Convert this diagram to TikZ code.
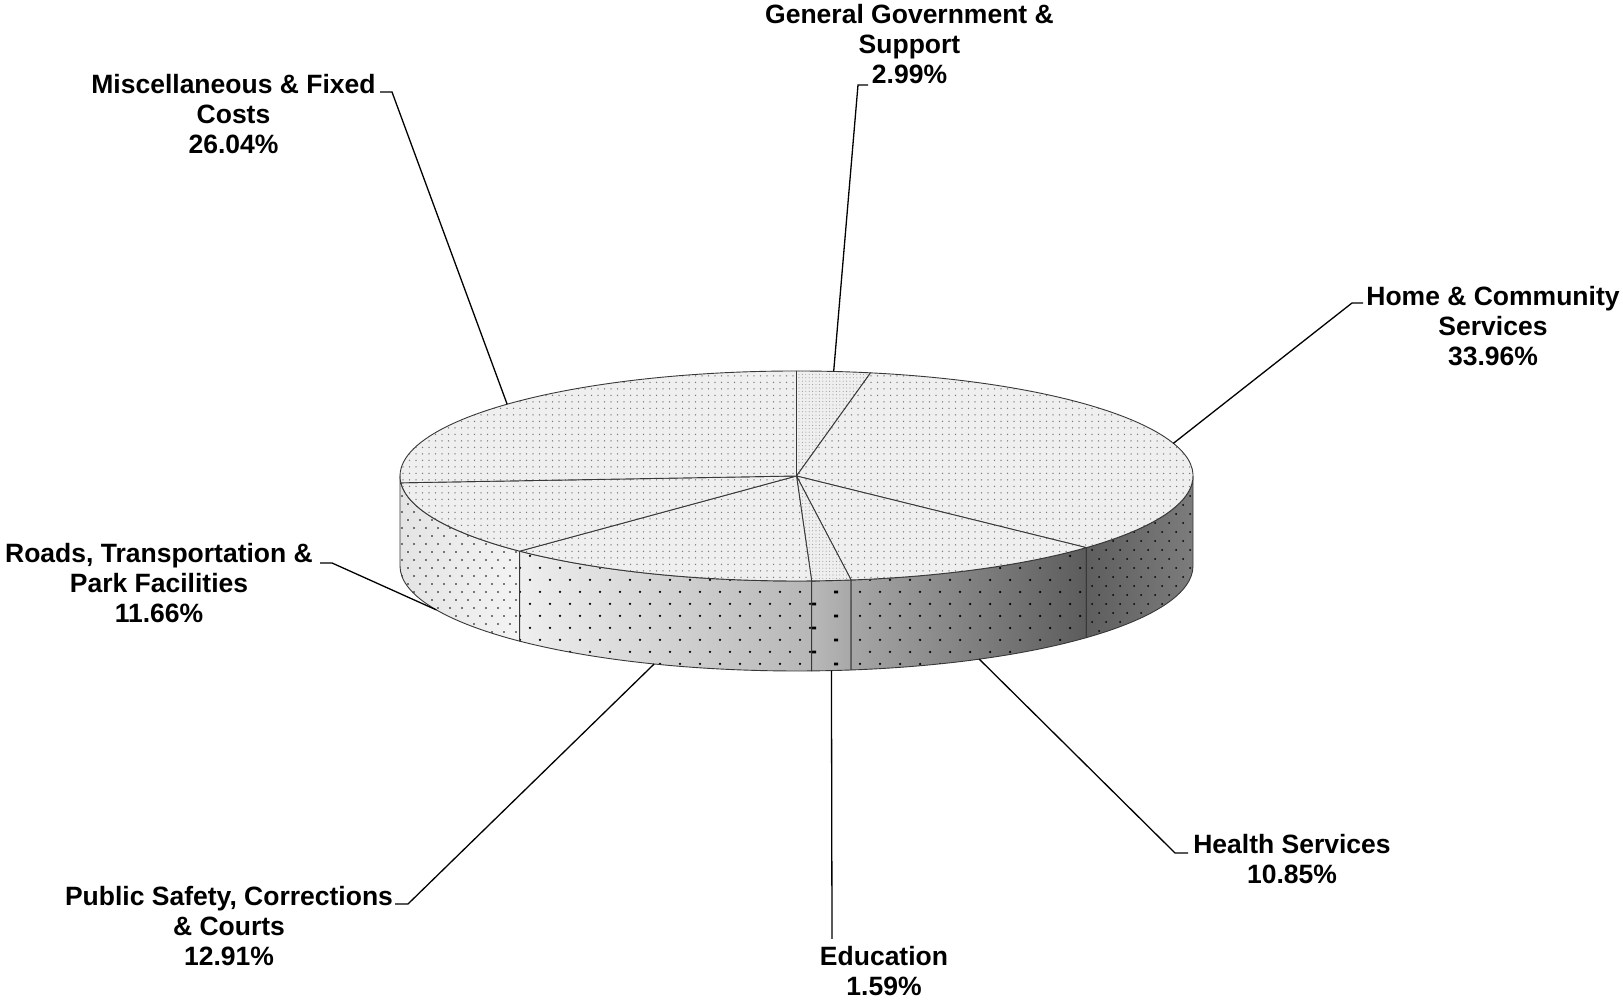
\documentclass[tikz,border=0pt]{standalone}
\usepackage{fontspec}
\setmainfont{Liberation Sans}
\usetikzlibrary{calc,patterns}
\definecolor{topgray}{HTML}{EFEFEF}
\definecolor{edgegray}{HTML}{383838}
\definecolor{dotgray}{HTML}{7A7A7A}
\definecolor{dotlight}{HTML}{9A9A9A}
\definecolor{sideA}{HTML}{E4E4E4}
\definecolor{sideB}{HTML}{F4F4F4}
\definecolor{sideC}{HTML}{EFEFEF}
\definecolor{sideD}{HTML}{B6B6B6}
\definecolor{sideE}{HTML}{B8B8B8}
\definecolor{sideF}{HTML}{A8A8A8}
\definecolor{sideG}{HTML}{A6A6A6}
\definecolor{sideH}{HTML}{5C5C5C}
\definecolor{sideI}{HTML}{5E5E5E}
\definecolor{sideJ}{HTML}{7C7C7C}
\pgfdeclarepatternformonly{topdots}{\pgfqpoint{-1pt}{-1pt}}{\pgfqpoint{1pt}{1pt}}{\pgfqpoint{6.5pt}{6.5pt}}{\pgfpathcircle{\pgfpointorigin}{0.75pt}\pgfusepath{fill}}
\pgfdeclarepatternformonly{finedots}{\pgfqpoint{-1pt}{-1pt}}{\pgfqpoint{1pt}{1pt}}{\pgfqpoint{3.4pt}{3.4pt}}{\pgfpathcircle{\pgfpointorigin}{0.55pt}\pgfusepath{fill}}
\pgfdeclarepatternformonly{lightsidedots}{\pgfqpoint{-1pt}{-1pt}}{\pgfqpoint{7pt}{9pt}}{\pgfqpoint{12pt}{16pt}}{\pgfpathcircle{\pgfpointorigin}{0.8pt}\pgfpathcircle{\pgfqpoint{6pt}{8pt}}{0.8pt}\pgfusepath{fill}}
\pgfdeclarepatternformonly{sidedots}{\pgfqpoint{-2pt}{-2pt}}{\pgfqpoint{12pt}{14pt}}{\pgfqpoint{20pt}{24pt}}{\pgfpathcircle{\pgfpointorigin}{1.25pt}\pgfpathcircle{\pgfqpoint{10pt}{12pt}}{1.25pt}\pgfusepath{fill}}
\pgfdeclarepatternformonly{edudots}{\pgfqpoint{-3pt}{-3pt}}{\pgfqpoint{25pt}{15pt}}{\pgfqpoint{44pt}{24pt}}{\pgfpathrectangle{\pgfqpoint{-2pt}{-1.3pt}}{\pgfqpoint{4pt}{2.6pt}}\pgfpathrectangle{\pgfqpoint{20pt}{10.7pt}}{\pgfqpoint{4pt}{2.6pt}}\pgfusepath{fill}}
\pgfdeclarepatternformonly{homedots}{\pgfqpoint{-1.5pt}{-1.5pt}}{\pgfqpoint{8.5pt}{10.5pt}}{\pgfqpoint{14pt}{18pt}}{\pgfpathcircle{\pgfpointorigin}{1pt}\pgfpathcircle{\pgfqpoint{7pt}{9pt}}{1pt}\pgfusepath{fill}}
\newcommand{\drawpieside}[5]{%
  \path[preaction={left color=#3,right color=#4}, pattern=#5, pattern color=black, draw=edgegray, line width=0.9pt, line join=round]
    ($(C)+(#1:396.5 and 105)$) arc[start angle=#1,end angle=#2,x radius=396.5,y radius=105]
    -- ++(0,-90) arc[start angle=#2,end angle=#1,x radius=396.5,y radius=105] -- cycle;}
\newcommand{\drawpietop}[4]{%
  \path[preaction={fill=topgray}, pattern=#3, pattern color=#4, draw=edgegray, line width=0.9pt, line join=round]
    (C) -- ($(C)+(#1:396.5 and 105)$) arc[start angle=#1,end angle=#2,x radius=396.5,y radius=105] -- cycle;}
\begin{document}
\begin{tikzpicture}[x=1pt,y=1pt,
  lbl/.style={font=\fontsize{26.5}{30}\selectfont\bfseries, align=center, anchor=north, inner sep=0pt},
  leader/.style={draw=black, line width=1.3pt, line join=miter}]
\useasboundingbox[fill=white] (0,0) rectangle (1623,1000);
\coordinate (C) at (796.5,524);
\coordinate (D) at (796.5,434);
% sides
\drawpieside{-180}{-134.28}{sideA}{sideB}{lightsidedots}
\drawpieside{-134.28}{-87.804}{sideC}{sideD}{sidedots}
\drawpieside{-87.804}{-82.08}{sideE}{sideF}{edudots}
\drawpieside{-82.08}{-43.02}{sideG}{sideH}{sidedots}
\drawpieside{-43.02}{0}{sideI}{sideJ}{homedots}
% top
\drawpietop{90}{79.236}{finedots}{dotlight}
\drawpietop{79.236}{-43.02}{topdots}{dotgray}
\drawpietop{-43.02}{-82.08}{topdots}{dotgray}
\drawpietop{-82.08}{-87.804}{finedots}{dotlight}
\drawpietop{-87.804}{-134.28}{topdots}{dotgray}
\drawpietop{-134.28}{-176.256}{topdots}{dotgray}
\drawpietop{-176.256}{-270}{topdots}{dotgray}
% anchor points on the pie
\coordinate (pGG) at ($(C)+(84.618:396.5 and 105)$);
\coordinate (pMisc) at ($(C)+(136.872:396.5 and 105)$);
\coordinate (pHome) at ($(C)+(18.108:396.5 and 105)$);
\coordinate (pRoads) at ($(D)+(-155.268:396.5 and 105)$);
\coordinate (pPS) at ($(D)+(-111.042:396.5 and 105)$);
\coordinate (pEdu) at ($(D)+(-84.942:396.5 and 105)$);
\coordinate (pHealth) at ($(D)+(-62.55:396.5 and 105)$);
% labels
\node[lbl] (lGG) at (909.5,998) {\strut General Government \&\\Support\\2.99\%};
\node[lbl] (lMisc) at (233.5,928) {\strut Miscellaneous \& Fixed\\Costs\\26.04\%};
\node[lbl] (lHome) at (1493,716) {\strut Home \& Community\\Services\\33.96\%};
\node[lbl] (lRoads) at (159,459) {\strut Roads, Transportation \&\\Park Facilities\\11.66\%};
\node[lbl] (lPS) at (229,116) {\strut Public Safety, Corrections\\\& Courts\\12.91\%};
\node[lbl] (lEdu) at (884,56) {\strut Education\\1.59\%};
\node[lbl] (lHealth) at (1292,168) {\strut Health Services\\10.85\%};
% leader elbows and ends
\coordinate (eGG) at (858,915);   \coordinate (tGG) at (868,915);
\coordinate (eMisc) at (392,908); \coordinate (tMisc) at (380,908);
\coordinate (eHome) at (1352,697); \coordinate (tHome) at (1363,697);
\coordinate (eRoads) at (332,437); \coordinate (tRoads) at (320,437);
\coordinate (ePS) at (408,96);    \coordinate (tPS) at (395,96);
\coordinate (tEdu) at (832,61);
\coordinate (eHealth) at (1175,147); \coordinate (tHealth) at (1188,147);
\draw[leader] (pGG) -- (eGG) -- (tGG);
\draw[leader] (pMisc) -- (eMisc) -- (tMisc);
\draw[leader] (pHome) -- (eHome) -- (tHome);
\draw[leader] (pRoads) -- (eRoads) -- (tRoads);
\draw[leader] (pPS) -- (ePS) -- (tPS);
\draw[leader] (pEdu) -- (tEdu);
\draw[leader] (pHealth) -- (eHealth) -- (tHealth);
\end{tikzpicture}
\end{document}
